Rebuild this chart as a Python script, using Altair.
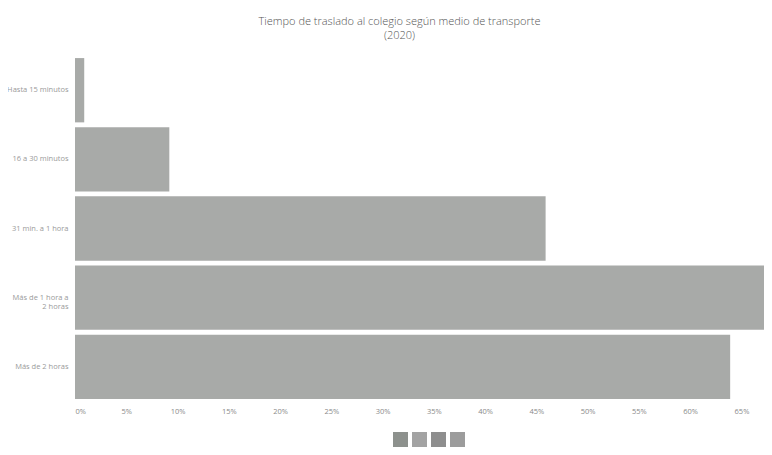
import altair as alt
import pandas as pd

categorias = ["Hasta 15 minutos", "16 a 30 minutos", "31 min. a 1 hora",
              "Más de 1 hora a 2 horas", "Más de 2 horas"]
valores = [0.9, 9.2, 45.9, 69.0, 63.9]
ticks = [0, 5, 10, 15, 20, 25, 30, 35, 40, 45, 50, 55, 60, 65]
medios = ["A pie", "Transporte público", "Auto", "Otro"]
colores_medios = ["#8d918d", "#a3a3a3", "#8e8e8e", "#9c9c9c"]

df = pd.DataFrame({"categoria": categorias, "valor": valores})
df_leg = pd.DataFrame({"medio": medios, "categoria": [categorias[0]] * 4, "valor": [0] * 4})

x_scale = alt.Scale(domain=[0, 67.2], nice=False, clamp=True)
y_scale = alt.Scale(domain=categorias, paddingInner=0.07, paddingOuter=0.03)

bars = alt.Chart(df).mark_bar(color="#a8aaa8").encode(
    x=alt.X("valor:Q", scale=x_scale, title=None,
            axis=alt.Axis(values=ticks, labelExpr="datum.value + '%'", grid=False,
                          domain=False, ticks=False, labelFontSize=7.5,
                          labelColor="#8a8a8a", labelPadding=6, labelFont="Open Sans")),
    y=alt.Y("categoria:N", scale=y_scale, sort=categorias, title=None,
            axis=alt.Axis(domain=False, ticks=False, labelFontSize=7.5,
                          labelColor="#9a9a9a", labelPadding=7, labelFont="Open Sans",
                          labelLimit=120,
                          labelExpr="datum.label == 'Más de 1 hora a 2 horas' ? ['Más de 1 hora a', '2 horas'] : datum.label")),
)

leg = alt.Chart(df_leg).mark_square(opacity=0).encode(
    x=alt.X("valor:Q", scale=x_scale),
    y=alt.Y("categoria:N", scale=y_scale, sort=categorias),
    color=alt.Color("medio:N", scale=alt.Scale(domain=medios, range=colores_medios),
                    legend=alt.Legend(orient="none", legendX=318, legendY=376,
                                      direction="horizontal", title=None,
                                      symbolType="square", symbolSize=225,
                                      symbolOpacity=1, symbolStrokeWidth=0,
                                      labelExpr="''", labelOffset=0,
                                      columnPadding=4, symbolOffset=0)),
)

chart = alt.layer(bars, leg).properties(
    width=689, height=345,
    autosize=alt.AutoSizeParams(type="none"),
    padding={"left": 67, "top": 48, "right": 0, "bottom": 60},
    title=alt.Title(["Tiempo de traslado al colegio según medio de transporte", "(2020)"],
                    fontSize=11, fontWeight=300, font="Open Sans", color="#555555",
                    anchor="middle", dx=-20, offset=15, lineHeight=14),
).configure_view(stroke=None)

chart.save("out.html", embed_options={"renderer": "svg", "actions": False})
